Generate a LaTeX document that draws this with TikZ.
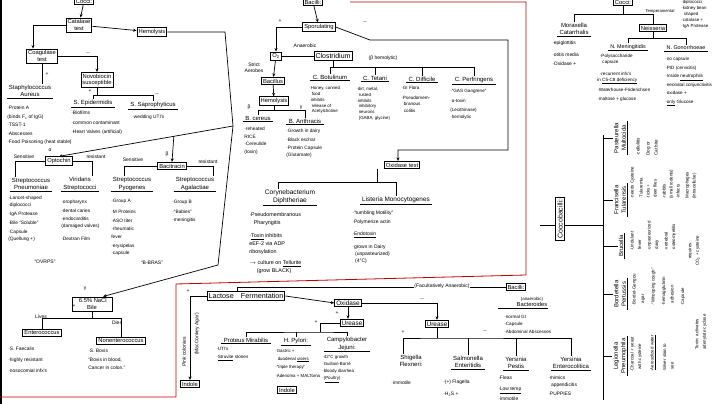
\documentclass[tikz,border=0pt]{standalone}
\usepackage{fontspec}
\setmainfont{Liberation Sans}
\usetikzlibrary{positioning, arrows.meta, calc}

\newcommand{\hfs}[2]{\fontsize{#1}{#2}\selectfont}

\begin{document}
\begin{tikzpicture}[x=1pt, y=-1pt, line width=0.7pt,
    box/.style={draw, line width=0.9pt, inner sep=1.5pt, align=center, font=\hfs{5.8}{6.8}},
    hd/.style={align=center, inner xsep=2pt, inner ysep=0.8pt, font=\hfs{6}{7.5},
        append after command={(\tikzlastnode.south west) edge (\tikzlastnode.south east)}},
    hdn/.style={align=center, inner sep=0.8pt, font=\hfs{6}{7.5}},
    lst/.style={align=left, anchor=north west, inner sep=0pt, font=\hfs{4.8}{8}},
    rlst/.style={lst, rotate=90},
    lbl/.style={inner sep=0.5pt, font=\hfs{5}{6}},
    arr/.style={-{Stealth[length=3.5pt, width=3pt]}},
    redl/.style={draw=red!75!black, line width=0.8pt}
]
\useasboundingbox (0,0) rectangle (720,404);
\fill[white] (0,0) rectangle (720,404);
\draw[line width=1.6pt] (1,0) -- (1,404);

% gram + cocci
\node[box] (cocA) at (84,1) {Cocci:};
\node[box] (cat) at (79,25) {Catalase\\test};
\node[box] (hemA) at (152,32) {Hemolysis};
\node[box] (coag) at (42,56) {Coagulase\\test};
\node[box] (novo) at (97,80) {Novobiocin\\susceptible};
\node[hd] (aur) at (30,91) {Staphylococcus\\Aureus};
\node[hd] (sepi) at (93,103) {S. Epidermidis};
\node[hd] (ssap) at (153,105) {S. Saprophyticus};
\draw[arr] (cocA) -- (cat);
\draw[arr] (cat) -- (hemA);
\draw[arr] (cat.west) -| ([xshift=-9pt]coag.north);
\draw[arr] (coag.east) -| (novo.north);
\draw (coag.south) -- (coag.south |- aur.north);
\draw (novo.south) -- ++(0,7) coordinate (nv);
\draw (sepi.north) |- (nv) -| (ssap.north);
\node[lbl] (mA) at (88,53) {$-$};
\node[lbl] (pA) at (47,74) {+};
\node[lbl] (pB) at (90,91) {+};
\node[lbl] (mB) at (157,94) {$-$};
\node[lst, font=\hfs{4.9}{8.5}] (aurL) at (7,106) {·Protein A\\(binds F\textsubscript{c} of IgG)\\·TSST-1\\·Abscesses\\·Food Poisoning (heat stable)};
\node[lst, font=\hfs{4.9}{9.5}] (sepiL) at (71,111) {·Biofilms\\·common contaminant\\·Heart Valves (artificial)};
\node[lst] (ssapL) at (132,115) {·wedding UTI's};

% streptococci
\node[box] (opt) at (59,161) {Optochin};
\node[box] (bac) at (172,166) {Bacitracin};
\coordinate (hc) at (225,32);
\coordinate (hj) at (233,126);
\coordinate (hg) at (218,265);
\draw (hemA.east) -- (hc) -- (hj);
\draw[arr] (hj) -- (opt.north);
\coordinate (hk) at ($(hj)!0.34!(opt.north)$);
\draw[arr] (hk) -- (bac.north);
\draw (hj) -- (hg);
\node[lbl] (alA) at (50,150) {α};
\node[lbl] (beA) at (167,154) {β};
\node[lbl] (gaA) at (85,289) {γ};
\node[hd] (pneu) at (31,184) {Streptococcus\\Pneumoniae};
\node[hd] (vir) at (80,184) {Viridans\\Streptococci};
\node[hd] (pyo) at (132,184) {Streptococcus\\Pyogenes};
\node[hd] (aga) at (195,184) {Streptococcus\\Agalactiae};
\draw (opt.west) -| ([xshift=-16pt]pneu.north);
\draw (opt.east) -| ([xshift=12pt]vir.north);
\draw (bac.west) -| ([xshift=-8pt]pyo.north);
\draw (bac.east) -| ([xshift=18pt]aga.north);
\node[lbl] (senA) at (24,157) {Sensitive};
\node[lbl] (resA) at (96,157) {resistant};
\node[lbl] (senB) at (133,160) {Sensitive};
\node[lbl] (resB) at (208,162) {resistant};
\node[lst] (pneuL) at (8,196) {·Lancet-shaped\\[-1pt]·diplococci\\[1pt]·IgA Protease\\[1pt]·Bile ``Soluble''\\[1pt]·Capsule\\[-1pt](Quellung +)};
\node[lbl] (ovrps) at (45,262) {``OVRPS''};
\node[lst] (virL) at (61,200) {·oropharynx\\[1pt]·dental caries\\·endocarditis\\[-1pt](damaged valves)\\[5pt]·Dextran Film};
\node[lst] (pyoL) at (111,199) {·Group A\\[3pt]·M Proteins\\[1pt]·ASO titer\\·rheumatic\\fever\\[1pt]·erysipelas\\[-1pt]·capsule};
\node[lbl] (bbras) at (152,263) {``B-BRAS''};
\node[lst] (agaL) at (172,200) {·Group B\\[2pt]·``Babies''\\·meningitis};

% enterococci
\node[box, minimum width=40pt] (nacl) at (92,304) {\ 6.5\% NaCl\\Bile};
\node[lbl] (pN) at (74,306) {+};
\draw[arr] (hg) -- ([xshift=11pt]nacl.north);
\node[box] (ent) at (42,333) {Enterococcus};
\node[box] (nent) at (121,341) {Nonenterococcus};
\draw (nacl.south) -- ++(0,7) coordinate (nc);
\draw (ent.north) |- (nc) -| (nent.north);
\node[lbl] (lives) at (41,317) {Lives};
\node[lbl] (dies) at (117,323) {Dies};
\node[lst, font=\hfs{4.9}{11}] (entL) at (8,347) {·S. Faecalis\\·highly resistant\\·nosocomial infx's};
\node[lst, font=\hfs{4.9}{8}] (nentL) at (88,349) {·S. Bovis\\[1pt]``Bovis in blood,\\Cancer in colon.''};

% red frames
\draw[redl] (350,2) -- (526,2) -- (526,275) -- (176,284) -- (176,397) -- (0,397);

% gram + bacilli
\node[box] (bacA) at (313,2) {Bacilli:};
\node[box] (spor) at (319,27) {Sporulating};
\node[box] (o2) at (276,56) {O\textsubscript{2}};
\node[box, font=\hfs{7}{8}] (clos) at (333,56) {Clostridium};
\node[lbl] (closb) at (383,58) {(β hemolytic)};
\draw[arr] (bacA) -- (spor);
\draw[arr] (spor.west) -| (o2.north);
\draw (o2) -- (clos);
\node[lbl] (pS) at (280,21) {+};
\node[lbl] (mS) at (365,22) {$-$};
\node[lbl] (anae) at (305,46) {Anaerobic};
\node[lbl, align=center] (strict) at (254,68) {Strict\\Aerobes};
\node[box] (bcl) at (273,81) {Bacillus};
\node[box] (hemB) at (274,101) {Hemolysis};
\draw[arr] (o2) -- (bcl);
\draw[arr] (bcl) -- (hemB);
\node[hd] (bcer) at (258,118) {B. cereus};
\node[hd] (bant) at (305,121) {B. Anthracis};
\draw (hemB.south) -- ++(0,5) coordinate (hb);
\draw (bcer.north) |- (hb) -| (bant.north);
\node[lbl] (beB) at (249,107) {β};
\node[lbl] (gaB) at (301,108) {γ};
\node[lst, font=\hfs{4.8}{7.5}] (bcerL) at (244,127) {·reheated\\RICE\\·Cereulide\\(toxin)};
\node[lst, font=\hfs{4.8}{8.5}] (bantL) at (286,129) {·Growth in dairy\\·Black eschar\\·Protein Capsule\\[-2pt](Glutamate)};
\node[hd] (bot) at (330,77) {C. Botulinum};
\node[hd] (tet) at (375,78) {C. Tetani};
\node[hd] (dif) at (422,79) {C. Difficile};
\node[hd] (perf) at (474,80) {C. Perfringens};
\draw (clos.south) -- ++(0,7) coordinate (cb);
\draw (bot.north) |- (cb) -| (perf.north);
\draw (tet.north) -- (tet.north |- cb);
\draw (dif.north) -- (dif.north |- cb);
\node[lst, font=\hfs{4.4}{5.5}] (botL) at (309,86) {·Honey, canned\\\ \ food\\[1pt]·inhibits\\\ \ release of\\\ \ Acetylcholine};
\node[lst, font=\hfs{4.4}{5.8}] (tetL) at (356,87) {·dirt, metal,\\\ \ rusted\\·inhibits\\\ \ inhibitory\\\ \ neurons\\\ \ (GABA, glycine)};
\node[lst, font=\hfs{4.6}{6.5}] (difL) at (401,86) {·GI Flora\\[3pt]·Pseudomem-\\\ \ branous\\\ \ colitis};
\node[lst, font=\hfs{4.6}{7}] (perfL) at (450,89) {·``GAS Gangrene''\\[3pt]·α-toxin\\[2pt](Lecithinase)\\·hemolytic};

% oxidase branch
\coordinate (sw) at (370,40);
\coordinate (sx) at (508,40);
\coordinate (sy) at (508,150);
\node[box] (oxA) at (402,165) {Oxidase test};
\draw[arr] (spor.east) -- (sw) -- (sx) -- (sy) -| ([xshift=-4pt]oxA.north);
\node[hd, font=\hfs{6.6}{8.5}] (cory) at (290,197) {Corynebacterium\\Diphtheriae};
\node[hd, font=\hfs{6.4}{8}] (lis) at (396,200) {Listeria Monocytogenes};
\draw ([xshift=-25pt]oxA.south) -- ++(0,13) coordinate (ob);
\draw ([xshift=-12pt]cory.north) |- (ob) -| (lis.north);
\node[lst, font=\hfs{5.4}{8}] (coryL) at (249,212) {·Pseudomembranous\\\ \ \ Pharyngitis\\[5pt]·\underline{Toxin} inhibits\\eEF-2 via ADP\\ribosylation\\[3pt]$\rightarrow$ culture on \underline{Tellurite}\\\ \ \ \ \ (grow BLACK)};
\node[lst, font=\hfs{5}{8}] (lisL) at (352,211) {·``tumbling Motility''\\[1pt]·Polymerize actin\\[4pt]·\underline{Endotoxin}\\[5pt]·grows in Dairy\\[-1pt]\ \ (unpasteurized)\\[-1pt]\ \ (4°C)};

% gram - cocci
\node[box] (cocB) at (623,2) {Cocci:};
\node[hd] (mora) at (574,29) {Moraxella\\Catarrhalis};
\node[box] (neis) at (653,28) {Neisseria};
\draw (cocB.south) -- ++(0,8) coordinate (cbr);
\draw (mora.north) |- (cbr) -| (neis.north);
\node[lbl, font=\hfs{4.2}{5}] (temp) at (660,11) {Temperamental};
\node[lst, font=\hfs{4.4}{6}] (neisL) at (681,0) {·diplococci\\·kidney bean\\\ \ shaped\\·catalase +\\·IgA Protease};
\node[lst, font=\hfs{4.9}{12}] (moraL) at (552,41) {·epiglottitis\\·otitis media\\[-3pt]·Oxidase +};
\node[hd, font=\hfs{5.4}{6.5}] (nmen) at (628,47) {N. Meningitidis};
\node[hd, font=\hfs{5.4}{6.5}] (ngon) at (686,48) {N. Gonorrhoeae};
\draw (neis.south) -- ++(0,6) coordinate (nb);
\draw (nmen.north) |- (nb) -| (ngon.north);
\node[lst, font=\hfs{4.6}{6.2}] (nmenL) at (597,54) {\ \ ·Polysaccharide\\\ \ \ \ capsule\\[5pt]\ \ ·recurrent infx's\\in \underline{C5-C8 deficiency}\\[3pt]·Waterhouse-Friderichsen\\[3pt]·maltose + glucose};
\node[lst, font=\hfs{4.6}{8.5}] (ngonL) at (665,57) {·no capsule\\·PID (cervicitis)\\·Inside \underline{neutrophils}\\·neonatal conjunctivitis\\·oxidase +\\·\underline{only} Glucose};

% coccobacilli
\coordinate (cl) at (540,225);
\coordinate (stop) at (603,135);
\coordinate (sbot) at (603,400);
\node[box, rotate=90, font=\hfs{7}{8}] (ccb) at (560,219) {Coccobacilli:};
\draw (cl) -- (ccb.north |- cl);
\draw (ccb.south |- cl) -- (cl -| stop);
\draw (stop) -- (sbot);
\node[hd, rotate=90] (past) at (620,138) {Pasteurella\\Multocida};
\node[hd, rotate=90] (fran) at (620,200) {Francisella\\Tularensis};
\node[hd, rotate=90] (bruc) at (621,246) {Brucella};
\node[hd, rotate=90] (bord) at (620,294) {Bordetella\\Pertussis};
\node[hd, rotate=90] (legi) at (620,356) {Legionella\\Pneumophila};
\draw (past.north) -- (past.north -| stop);
\draw (fran.north) -- (fran.north -| stop);
\draw (bruc.north) -- (bruc.north -| stop);
\draw (bord.north) -- (bord.north -| stop);
\draw (legi.north) -- (legi.north -| stop);
\node[rlst, font=\hfs{4.6}{8}] (pastL) at (636,156) {·cellulitis\\[2pt]Dog or\\Cat bite};
\node[rlst, font=\hfs{4.4}{7}] (franL) at (630,199) {·needs Cysteine\\[2pt]·Tularemia\\·ticks +\\\ deer flies\\[2pt]·rabbits\\(small rodents)\\·infects\\[2pt]Macrophages\\(intracellular)};
\node[rlst, font=\hfs{4.4}{7.5}] (brucL) at (630,251) {·Undulant\\\ fever\\[2pt]·unpasteurized\\\ dairy\\[2pt]·vertebral\\\ osteomyelitis};
\node[rotate=90, align=center, inner sep=0pt, font=\hfs{4.4}{7.5}] (brucR) at (694,251) {requires\\CO\textsubscript{2} + cysteine};
\node[rlst, font=\hfs{4.4}{8.5}] (bordL) at (632,306) {·Bordet-Gengou\\\ \ agar\\[2pt]·``Whooping cough''\\[2pt]·hemagglutinin\\\ \ adhesion\\[2pt]·Capsule};
\node[rotate=90, align=left, inner sep=0pt, font=\hfs{4.4}{7.5}] (bordR) at (701,332) {Toxin: activates\\adenylate cyclase};
\node[rlst, font=\hfs{4.4}{7.5}] (legiL) at (630,372) {·Charcoal + yeast\\\ \ with cysteine\\[5pt]·\underline{Aerosolized water}\\[5pt]·Silver stain to\\\ \ see};

% gram - bacilli
\node[box] (bacC) at (516,287) {Bacilli:};
\node[box, font=\hfs{7.2}{8}] (lac) at (246,296) {Lactose\quad Fermentation};
\draw (bacC.west) -| ([xshift=-9pt]lac.north);
\node[lbl, fill=white, font=\hfs{5}{6}] (facan) at (442,286) {(Facultatively Anaerobic)};
\node[hdn, font=\hfs{5.8}{6.5}] (bact) at (532,302) {{\hfs{4.4}{5}(anaerobic)}\\Bacteroides};
\draw ([xshift=-18pt]bact.south west) -- (bact.south east);
\node[lst, font=\hfs{4.6}{7.2}] (bactL) at (504,315) {·normal GI\\·Capsule\\·Abdominal Abscesses};
\node[box, font=\hfs{6.4}{7}] (oxB) at (348,303) {Oxidase};
\draw[arr] (lac.east) -- (oxB.west);
\node[box, font=\hfs{6.4}{7}] (ureA) at (352,323) {Urease};
\node[box, font=\hfs{6.4}{7}] (ureB) at (437,324) {Urease};
\draw[arr] (oxB.south) -- (oxB.south |- ureA.north);
\draw[arr] (oxB.east) -| (ureB.north);
\node[lbl] (pO) at (337,313) {+};
\node[lbl] (mO) at (422,299) {$-$};
\node[lbl] (pL) at (188,291) {+};
\node[box] (indA) at (190,384) {Indole};
\draw[arr] (lac.west) -| (indA.north);
\node[rotate=90, inner sep=0pt, font=\hfs{5}{6}] (pink) at (184,352) {Pink colonies};
\node[rotate=90, inner sep=0pt, font=\hfs{5}{6}] (macc) at (197,334) {(MacConkey Agar)};
\node[box] (indB) at (287,390) {Indole};
% urease + side
\coordinate (ub) at (320,332);
\draw (ureA.west) -| (ub);
\node[hd] (prot) at (246,340) {Proteus Mirabilis};
\node[hd] (hpyl) at (296,341) {H. Pylori:};
\node[hd] (camp) at (347,344) {Campylobacter\\Jejuni:};
\draw (prot.north) |- (ub) -| (camp.north);
\draw (hpyl.north) -- (hpyl.north |- ub);
\node[lbl] (pU) at (316,322) {+};
\node[lst, font=\hfs{4.6}{8}] (protL) at (216,347) {·UTI's\\·\underline{Struvite} stones};
\node[lst, font=\hfs{4.4}{7.5}] (hpylL) at (275,349) {·Gastric +\\\ \ duodenal \underline{ulcers}\\[1pt]·``triple therapy''\\[1pt]·Adenoma + MALToma};
\node[lst, font=\hfs{4.4}{7}] (campL) at (322,355) {·42°C growth\\·Guillain-Barré\\·bloody diarrhea\\·(\underline{Poultry})};
% urease - side
\coordinate (uc) at (437,338);
\draw (ureB.south) -- (uc);
\node[hdn] (shig) at (411,361) {Shigella\\Flexneri:};
\node[hd] (salm) at (468,362) {Salmonella\\Enteritidis};
\node[hd] (ypes) at (516,363) {Yersinia\\Pestis};
\node[hd] (yent) at (571,363) {Yersinia\\Enterocolitica};
\draw ([xshift=-8pt]shig.north) |- (uc) -| (yent.north);
\draw (salm.north) -- (salm.north |- uc);
\draw (ypes.north) -- (ypes.north |- uc);
\node[lbl] (pV) at (403,332) {+};
\node[lbl] (mV) at (485,331) {$-$};
\node[lst] (shigL) at (391,381) {·immotile};
\node[lst, font=\hfs{4.9}{12}] (salmL) at (443,380) {·(+) Flagella\\·H\textsubscript{2}S +};
\node[lst, font=\hfs{4.9}{10.5}] (ypesL) at (498,376) {·Fleas\\·\underline{Low temp}\\·immotile};
\node[lst, font=\hfs{4.9}{7}] (yentL) at (548,376) {·mimics\\\ \ appendicitis\\[2pt]·PUPPIES};
\end{tikzpicture}
\end{document}
